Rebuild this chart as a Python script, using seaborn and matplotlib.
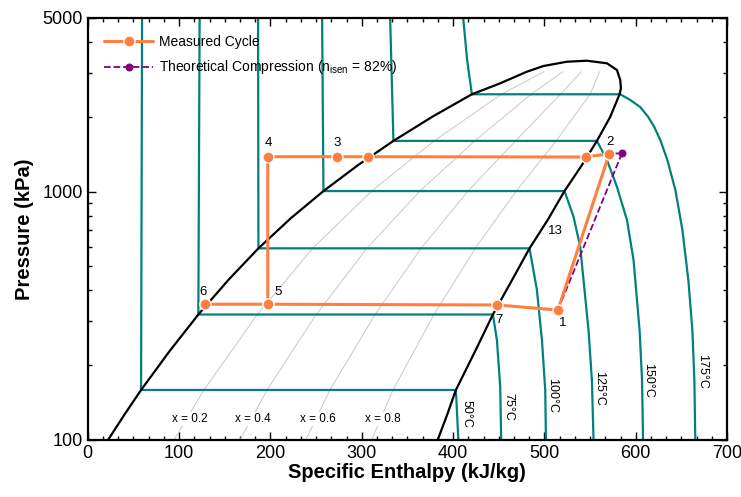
import numpy as np
import pandas as pd
import seaborn as sns
import matplotlib.pyplot as plt
from matplotlib.ticker import MultipleLocator, FixedLocator, NullFormatter

# saturation dome (liquid branch -> top -> vapour branch)
dome_h = [22.2, 40.3, 58.4, 89.8, 121.1, 154.0, 186.9, 222.5, 258.1, 296.4, 334.7, 377.7, 420.6,
          451.6, 480.8, 499.0, 524.6, 546.5, 568.5, 579.4, 583.0, 583.8, 582.3,
          572.0, 557.5, 540.3, 522.0, 503.6, 483.7, 464.0, 443.6, 424.8, 403.1, 393.3, 383.1]
dome_p = [100, 126.7, 159, 228.4, 320, 441.1, 591, 782.3, 1005, 1282, 1600, 2006, 2465,
          2729, 3039, 3204, 3334, 3365, 3285, 3087, 2814, 2606, 2465,
          1997, 1600, 1266, 1005, 768.7, 591, 436.6, 320, 230.3, 159, 125.7, 100]

# isotherms
iso_labels = ["50°C", "75°C", "100°C", "125°C", "150°C", "175°C"]
iso_h = [
    [59.5, 58.4, 403.1, 405.8],
    [122.5, 121.1, 443.6, 448.0, 451.6, 452.7],
    [186.5, 186.9, 483.7, 491.8, 497.3, 500.9, 501.7],
    [256.6, 258.1, 522.0, 531.9, 539.2, 548.3, 552.0, 553.8],
    [331.1, 334.7, 557.5, 568.5, 579.4, 590.4, 597.6, 604.2, 606.9, 608.0],
    [411.1, 415.4, 420.6, 583.0, 594.0, 604.9, 613.7, 620.3, 626.9, 634.6, 643.4,
     651.1, 657.6, 662.0, 664.2, 665.2],
]
iso_p = [
    [5000, 159, 159, 100],
    [5000, 320, 320, 252.7, 163.9, 100],
    [5000, 591, 591, 401.8, 252.7, 159, 100],
    [5000, 1005, 1005, 792.5, 600, 277, 174.4, 100],
    [5000, 1600, 1600, 1341, 1046, 768.7, 530, 277, 174.4, 100],
    [5000, 3388, 2465, 2465, 2338, 2190, 1997, 1820, 1613, 1341, 1015,
     700.5, 440.7, 277, 174.4, 100],
]
iso_lbl_h = [414.3, 460.7, 508.2, 560.3, 614.0, 672.5]
iso_lbl_p = [127.3, 136.2, 150.4, 161.5, 174.4, 188.4]

# constant quality lines
q_p = [100, 159, 320, 591, 1005, 1600, 2465, 3039]
q_names = ["x = 0.2", "x = 0.4", "x = 0.6", "x = 0.8"]
q_h = [
    [94.4, 127.3, 185.6, 246.3, 310.9, 379.3, 452.9, 499.5],
    [166.5, 196.3, 250.1, 305.6, 363.7, 423.8, 485.3, 520.5],
    [238.7, 265.2, 314.6, 365.0, 416.4, 468.4, 517.6, 540.5],
    [310.8, 334.2, 379.1, 424.3, 469.2, 512.9, 550.0, 560.5],
]
q_lbl_h = [111.3, 180.7, 251.9, 323.1]

# measured cycle (path order 6-5-7-1-2-...-3-4-5)
cyc_h = [128.1, 197.1, 448.0, 514.8, 571.0, 545.5, 306.7, 273.4, 197.1, 197.1]
cyc_p = [352, 352, 349.6, 333.7, 1421, 1378, 1382, 1382, 1382, 352]
pt_labels = ["1", "2", "3", "4", "5", "6", "7", "13"]
pt_h = [519.5, 572.0, 273.0, 197.5, 208.4, 126.3, 450.5, 511.8]
pt_p = [295.8, 1584, 1569, 1569, 394.3, 394.3, 304, 694]

# theoretical compression
th_h = [514.8, 584.9, 571.0]
th_p = [333.7, 1426, 1421]

sns.set_style("ticks", {"axes.edgecolor": "black", "xtick.color": "black",
                        "ytick.color": "black", "text.color": "black",
                        "axes.labelcolor": "black"})
plt.rcParams['font.family'] = ['Liberation Sans', 'DejaVu Sans']

fig = plt.figure(figsize=(7.41, 4.97), dpi=100)
ax = fig.add_axes([0.1184, 0.1147, 0.8628, 0.8491])

teal = "#008080"
for xs in q_h:
    sns.lineplot(x=xs, y=q_p, sort=False, estimator=None, color="#c8c8c8", lw=0.7, ax=ax)
for xs, ys in zip(iso_h, iso_p):
    sns.lineplot(x=xs, y=ys, sort=False, estimator=None, color=teal, lw=1.6, ax=ax)
sns.lineplot(x=dome_h, y=dome_p, sort=False, estimator=None, color="black", lw=1.6, ax=ax)

sns.lineplot(x=cyc_h, y=cyc_p, sort=False, estimator=None, color="#ff7f3f", lw=2.2,
             marker="o", markersize=8, markeredgecolor="white", markeredgewidth=1,
             label="Measured Cycle", ax=ax, zorder=5)
sns.lineplot(x=th_h, y=th_p, sort=False, estimator=None, color="#800080", lw=1.3,
             linestyle="--", marker="o", markersize=5, markeredgecolor="#800080",
             label=r"Theoretical Compression (n$_{\mathregular{isen}}$ = 82%)", ax=ax, zorder=4)
ax.lines[-1].set_markevery([1])

for t, h, p in zip(iso_labels, iso_lbl_h, iso_lbl_p):
    ax.text(h, p, t, rotation=-90, ha="center", va="center", fontsize=9)
for t, h in zip(q_names, q_lbl_h):
    ax.text(h, 121.5, t, ha="center", va="center", fontsize=8.5,
            bbox=dict(facecolor="white", edgecolor="none", pad=1))
for t, h, p in zip(pt_labels, pt_h, pt_p):
    ax.text(h, p, t, ha="center", va="center", fontsize=9.5)

ax.set_yscale("log")
ax.set_xlim(0, 700)
ax.set_ylim(100, 5000)
ax.set_yticks([100, 1000, 5000])
ax.set_yticklabels(["100", "1000", "5000"])
ax.yaxis.set_minor_locator(FixedLocator([200, 300, 400, 500, 600, 700, 800, 900, 2000, 3000, 4000]))
ax.yaxis.set_minor_formatter(NullFormatter())
ax.xaxis.set_major_locator(MultipleLocator(100))
ax.xaxis.set_minor_locator(MultipleLocator(100 / 6))
ax.tick_params(which="both", direction="in", top=True, right=True, labelsize=13, width=1)
ax.tick_params(which="major", length=6)
ax.tick_params(which="minor", length=3)
for s in ax.spines.values():
    s.set_linewidth(1.6)
    s.set_visible(True)

ax.set_xlabel("Specific Enthalpy (kJ/kg)", fontsize=14.5, fontweight="bold", labelpad=1)
ax.set_ylabel("Pressure (kPa)", fontsize=14.5, fontweight="bold", labelpad=6)

ax.legend(loc="upper left", frameon=False, fontsize=10, handlelength=3.5,
          labelspacing=0.7, borderaxespad=0.8, handletextpad=0.4)

fig.savefig("out.png", dpi=100)
